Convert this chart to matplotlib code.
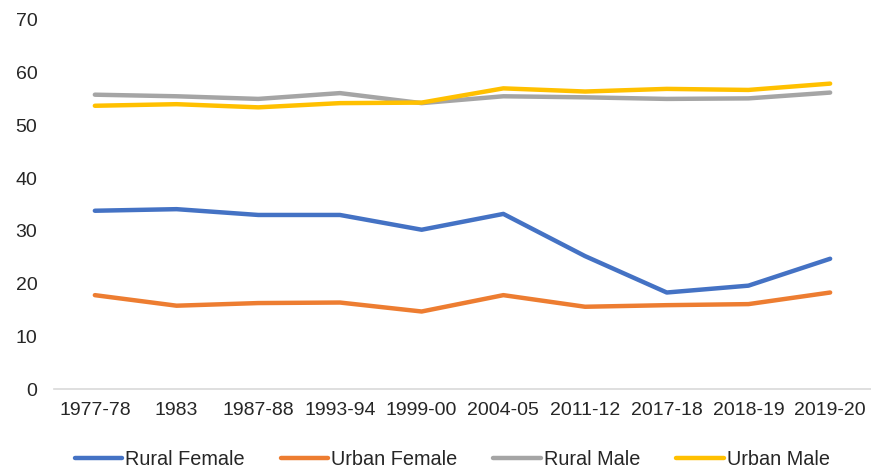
import matplotlib.pyplot as plt

plt.rcParams['font.family'] = ['Liberation Sans', 'DejaVu Sans']

anos = ["1977-78", "1983", "1987-88", "1993-94", "1999-00", "2004-05",
        "2011-12", "2017-18", "2018-19", "2019-20"]
rural_female = [33.8, 34.1, 33.0, 33.0, 30.2, 33.2, 25.2, 18.3, 19.6, 24.7]
urban_female = [17.8, 15.8, 16.3, 16.4, 14.7, 17.8, 15.6, 15.9, 16.1, 18.3]
rural_male = [55.8, 55.5, 55.0, 56.1, 54.2, 55.5, 55.3, 55.0, 55.1, 56.2]
urban_male = [53.7, 54.0, 53.4, 54.2, 54.3, 57.0, 56.4, 56.9, 56.7, 57.9]

series = [("Rural Female", rural_female, "#4472C4"),
          ("Urban Female", urban_female, "#ED7D31"),
          ("Rural Male", rural_male, "#A5A5A5"),
          ("Urban Male", urban_male, "#FFC000")]

fig = plt.figure(figsize=(8.71, 4.71), dpi=100)
ax = fig.add_axes([0.062, 0.174, 0.938, 0.784])

x = range(len(anos))
for nome, valores, cor in series:
    ax.plot(x, valores, color=cor, linewidth=3.2, label=nome, solid_capstyle='round')

ax.set_xlim(-0.5, len(anos) - 0.5)
ax.set_ylim(0, 70)
ax.set_yticks(range(0, 71, 10))
ax.set_xticks(list(x))
ax.set_xticklabels(anos)
ax.tick_params(axis='both', length=0, labelsize=14, colors='#262626')
ax.tick_params(axis='x', pad=9)
ax.tick_params(axis='y', pad=12)

for lado in ['top', 'right', 'left']:
    ax.spines[lado].set_visible(False)
ax.spines['bottom'].set_color('#D9D9D9')
ax.spines['bottom'].set_linewidth(1.2)

fig.legend(loc='lower center', ncol=4, frameon=False, fontsize=14.3,
           bbox_to_anchor=(0.519, -0.033), handlelength=2.4, handletextpad=0.15,
           columnspacing=1.8, labelcolor='#262626')

fig.savefig("out.png", dpi=100)
